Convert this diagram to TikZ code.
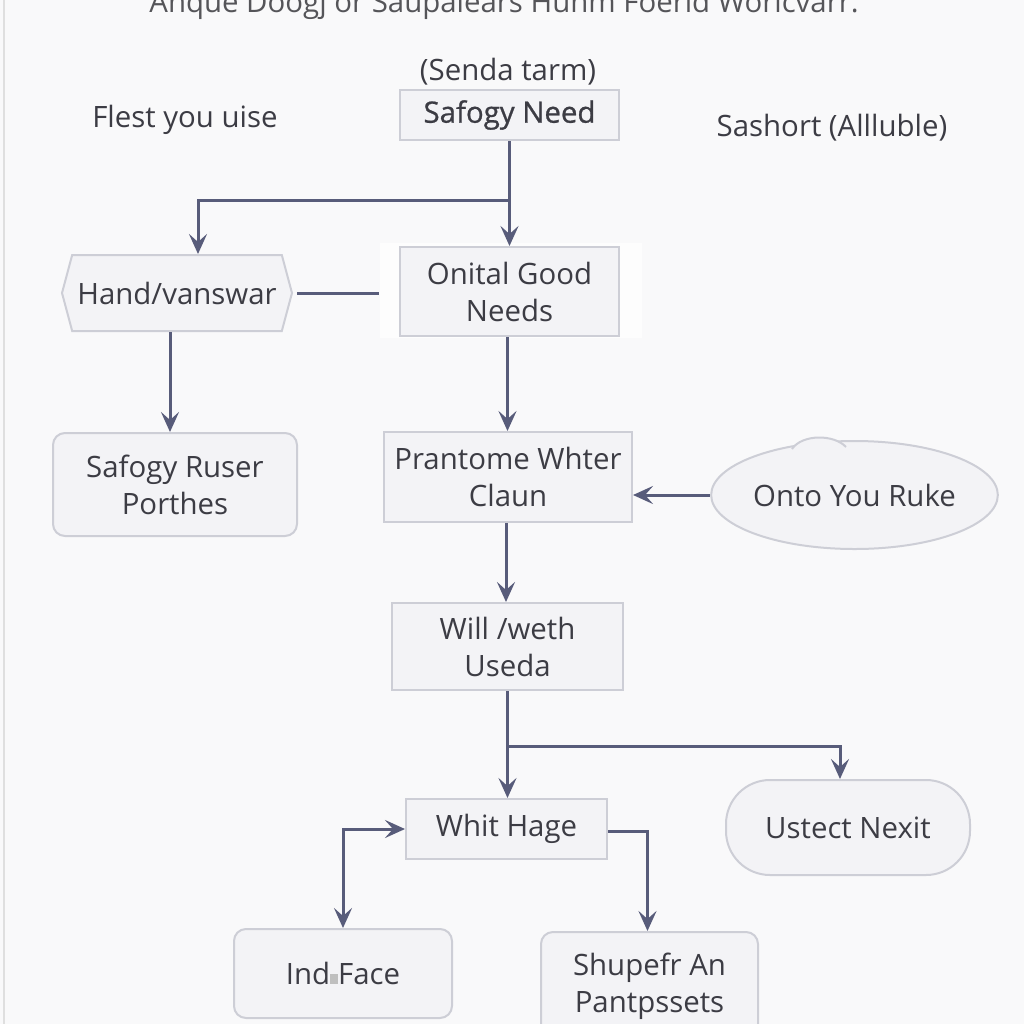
\documentclass[tikz,border=0pt]{standalone}
\usepackage{fontspec}
\setmainfont{Open Sans}
\newfontfamily\semib[FakeBold=0.8]{Open Sans}
\usetikzlibrary{arrows.meta,shapes.geometric,shapes.symbols}
\definecolor{bg}{HTML}{F9F9FA}
\definecolor{ln}{HTML}{585C7A}
\definecolor{bd}{HTML}{CDCED6}
\definecolor{bx}{HTML}{F3F3F6}
\definecolor{tx}{HTML}{3C3C44}
\definecolor{tl}{HTML}{555559}
\begin{document}
\begin{tikzpicture}[x=0.5pt,y=-0.5pt,
  every node/.style={font=\fontsize{14.7}{18.5}\selectfont, text=tx, align=center, inner sep=0pt},
  box/.style={draw=bd, fill=bx, line width=1pt, rectangle},
  rbox/.style={box, rounded corners=6pt},
  blob/.style={draw=bd, fill=bx, line width=1pt},
  conn/.style={draw=ln, line width=1.5pt},
  arr/.style={conn, -{Stealth[length=10pt,width=9pt,inset=4pt]}},
  arrb/.style={conn, {Stealth[length=10pt,width=9pt,inset=4pt]}-{Stealth[length=10pt,width=9pt,inset=4pt]}}]
\useasboundingbox (0,0) rectangle (1024,1024);
\clip (0,0) rectangle (1024,1024);
\fill[bg] (0,0) rectangle (1024,1024);
\draw[gray!25, line width=1pt] (4,0) -- (4,1024);

% free texts
\node[text=tl, anchor=base] (title) at (504,12) {Anque Doogj or Saupalears Hunm Foerid Worlcvarr.};
\node (senda) at (508,72) {(Senda tarm)};
\node (flest) at (185,120) {Flest you uise};
\node (sash) at (832,128) {Sashort (Allluble)};

% nodes
\node[box, minimum width=109.5pt, minimum height=25pt, font=\semib\fontsize{14.7}{18.5}\selectfont] (need) at (509.5,115) {Safogy Need};
\fill[white!70!bg] (380,243) rectangle (642,338);
\node[box, minimum width=109.5pt, minimum height=44.5pt] (onital) at (509.5,291.5) {Onital Good\\Needs};
\node[draw=bd, fill=bx, line width=1pt, shape=signal, signal to=west and east, signal pointer angle=150,
      minimum width=115pt, minimum height=38pt] (hand) at (177,293) {Hand/vanswar};
\node[rbox, minimum width=122pt, minimum height=51.5pt] (ruser) at (175,484.5) {Safogy Ruser\\Porthes};
\node[box, minimum width=124pt, minimum height=45pt] (pran) at (508,477) {Prantome Whter\\Claun};
\node[blob, ellipse, minimum width=138.5pt, minimum height=54pt] (ruke) at (854.5,495) {Onto You Ruke};
\fill[bx] (792,449) .. controls (802,434) and (834,434) .. (846,447) -- cycle;
\draw[bd, line width=1pt] (792,449) .. controls (802,434) and (834,434) .. (846,447);
\node[box, minimum width=115.5pt, minimum height=43.5pt] (will) at (507.5,646.5) {Will /weth\\Useda};
\node[box, minimum width=100.5pt, minimum height=30pt] (whit) at (506.5,829) {Whit Hage};
\node[blob, rounded corners=22pt, minimum width=122pt, minimum height=47.5pt] (ust) at (848,827.5) {Ustect Nexit};
\node[rbox, minimum width=109pt, minimum height=44.5pt] (indi) at (343,973.5) {Ind{\color{gray!50}\rule[0.5pt]{4pt}{5pt}}Face};
\node[rbox, minimum width=108.5pt, minimum height=54pt] (shup) at (649.5,986) {Shupefr An\\Pantpssets};

% connectors
\draw[arr] (need.south) -- (need.south |- onital.north);
\coordinate (b1) at (510,200);
\draw[arr] (b1) -| ([xshift=10.5pt]hand.north);
\draw[conn, shorten >=10pt, shorten <=2pt] (hand.east) -- (hand.east -| onital.west);
\draw[arr] ([xshift=-3.5pt]hand.south) -- ([xshift=-3.5pt]hand.south |- ruser.north);
\draw[arr] ([xshift=-1pt]onital.south) -- ([xshift=-1pt]onital.south |- pran.north);
\draw[arr] (ruke.west) -- (ruke.west -| pran.east);
\draw[arr] ([xshift=-1pt]pran.south) -- ([xshift=-1pt]pran.south |- will.north);
\draw[arr] (will.south) -- (will.south |- whit.north);
\coordinate (b2) at (507.5,746);
\draw[arr] (b2) -| ([xshift=-4pt]ust.north);
\draw[arrb] (indi.north) |- (whit.west);
\draw[arr] ([yshift=-1pt]whit.east) -| ([xshift=-1pt]shup.north);
\end{tikzpicture}
\end{document}
